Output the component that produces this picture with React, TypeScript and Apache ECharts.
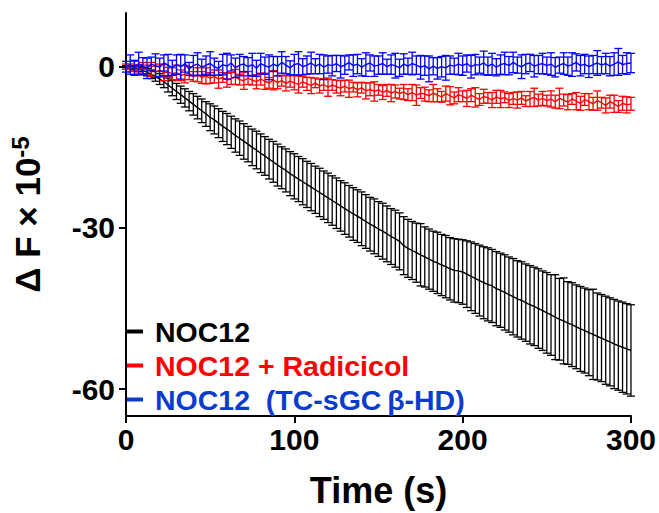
import React, { useEffect, useRef } from "react";
import * as echarts from "echarts";

// Time grid (s): one reading every 2.5 s from 0 to 300
const T_STEP = 2.5;

const noc12Mean = [
  0, -0.1, -0.2, -0.4, -0.7, -1.0, -1.4, -1.8, -2.3, -2.8,
  -3.4, -4.0, -4.6, -5.2, -5.8, -6.4, -7.0, -7.6, -8.2, -8.8,
  -9.4, -9.9, -10.5, -11.1, -11.6, -12.2, -12.8, -13.3, -13.9, -14.4,
  -15.0, -15.5, -16.1, -16.6, -17.2, -17.7, -18.3, -18.8, -19.3, -19.9,
  -20.4, -20.9, -21.4, -21.9, -22.4, -22.9, -23.4, -23.9, -24.4, -24.9,
  -25.4, -25.9, -26.4, -26.9, -27.4, -27.8, -28.3, -28.8, -29.3, -29.7,
  -30.2, -30.6, -31.1, -31.6, -32.0, -32.5, -33.3, -33.8, -34.2, -34.6,
  -35.0, -35.4, -35.8, -36.2, -36.5, -36.9, -37.2, -37.6, -37.9, -38.0,
  -38.2, -38.6, -39.0, -39.4, -39.8, -40.2, -40.5, -40.8, -41.3, -41.6,
  -42.0, -42.4, -42.8, -43.2, -43.5, -43.9, -44.3, -44.6, -45.0, -45.4,
  -45.8, -46.2, -46.6, -47.0, -47.3, -47.7, -48.0, -48.4, -48.8, -49.1,
  -49.5, -49.8, -50.2, -50.5, -50.9, -51.2, -51.6, -51.9, -52.2, -52.5,
  -52.8,
];
const noc12Err = [
  0.2, 0.3, 0.4, 0.5, 0.6, 0.7, 0.8, 0.9, 1.0, 1.1,
  1.3, 1.4, 1.5, 1.6, 1.7, 1.8, 2.0, 2.1, 2.2, 2.3,
  2.5, 2.6, 2.7, 2.8, 2.9, 3.0, 3.1, 3.2, 3.3, 3.3,
  3.4, 3.5, 3.6, 3.6, 3.7, 3.8, 3.9, 3.9, 4.0, 4.1,
  4.2, 4.2, 4.3, 4.3, 4.4, 4.4, 4.5, 4.5, 4.6, 4.6,
  4.7, 4.7, 4.8, 4.8, 4.9, 4.9, 5.0, 5.0, 5.0, 5.1,
  5.1, 5.2, 5.2, 5.2, 5.3, 5.3, 5.4, 5.4, 5.4, 5.5,
  5.8, 5.6, 5.6, 5.6, 5.7, 5.7, 5.8, 5.8, 5.9, 5.9,
  6.0, 6.2, 6.4, 6.5, 6.6, 6.7, 6.8, 6.8, 6.9, 6.9,
  7.0, 7.0, 7.1, 7.1, 7.2, 7.2, 7.3, 7.3, 7.4, 7.4,
  7.5, 7.5, 7.9, 7.6, 8.0, 7.7, 7.8, 7.8, 7.9, 7.9,
  8.0, 8.4, 8.1, 8.1, 8.2, 8.2, 8.3, 8.3, 8.4, 8.4,
  8.5,
];

const radicicolMean = [
  0, -0.2, 0.1, -0.4, -0.3, -0.6, -0.5, -0.9, -0.7, -1.1,
  -1.0, -1.3, -1.1, -1.6, -1.4, -1.2, -1.8, -1.5, -2.0, -1.7,
  -2.1, -1.8, -2.3, -2.0, -2.5, -2.2, -1.9, -2.4, -2.6, -2.1,
  -2.5, -2.8, -2.3, -2.7, -3.0, -2.5, -2.9, -2.6, -3.1, -2.7,
  -3.0, -3.3, -2.8, -3.2, -3.5, -3.0, -3.6, -3.3, -3.8, -3.4,
  -3.7, -4.0, -3.6, -4.1, -3.8, -4.3, -3.9, -4.5, -4.2, -4.6,
  -4.3, -4.8, -4.4, -4.9, -4.6, -5.0, -4.7, -5.2, -4.8, -5.3,
  -4.9, -5.1, -5.4, -4.9, -5.3, -5.6, -5.0, -5.4, -5.8, -5.2,
  -5.5, -5.9, -5.3, -5.7, -6.1, -5.5, -5.8, -6.2, -5.6, -6.0,
  -5.7, -6.3, -5.9, -6.2, -5.8, -6.4, -6.0, -5.7, -6.2, -5.9,
  -6.3, -6.0, -6.5, -5.9, -6.2, -6.6, -6.0, -6.4, -6.8, -6.1,
  -6.5, -6.9, -6.3, -6.7, -7.2, -6.5, -6.9, -7.4, -6.8, -7.1,
  -6.9,
];
const radicicolErr = [
  0.5, 0.7, 0.9, 0.8, 1.1, 0.9, 1.3, 1.0, 1.2, 1.5,
  0.9, 1.1, 1.4, 1.0, 1.6, 1.2, 0.9, 1.3, 1.1, 1.5,
  1.0, 1.2, 1.7, 0.9, 1.3, 1.1, 1.4, 1.0, 1.6, 1.2,
  0.9, 1.3, 1.1, 1.5, 1.0, 1.8, 1.2, 1.0, 1.4, 1.1,
  1.3, 1.6, 1.0, 1.2, 1.5, 0.9, 1.3, 1.1, 1.7, 1.0,
  1.2, 1.4, 1.1, 1.6, 0.9, 1.3, 1.0, 1.5, 1.2, 1.8,
  1.0, 1.3, 1.1, 1.6, 1.2, 1.0, 1.4, 1.1, 1.5, 1.9,
  1.0, 1.3, 1.1, 1.6, 1.2, 1.0, 1.4, 1.7, 1.1, 1.3,
  1.0, 1.5, 1.2, 1.8, 1.1, 1.3, 1.0, 1.4, 1.2, 1.6,
  1.0, 1.3, 1.1, 1.5, 1.2, 1.0, 1.4, 1.7, 1.1, 1.3,
  1.0, 1.5, 1.2, 1.9, 1.1, 1.4, 1.0, 1.6, 1.3, 1.1,
  1.5, 1.2, 1.8, 1.0, 1.4, 1.2, 1.6, 1.1, 1.3, 1.5,
  1.2,
];

const tcMean = [
  0.0, 0.4, -0.2, 0.6, 0.1, -0.3, 0.5, 0.2, -0.1, 0.7,
  0.3, -0.2, 0.4, 0.0, 0.6, -0.4, 0.2, 0.5, -0.1, 0.3,
  0.6, 0.0, -0.3, 0.4, 0.1, 0.7, -0.2, 0.3, 0.5, 0.0,
  0.4, -0.3, 0.6, 0.2, -0.1, 0.5, 0.1, 0.8, 0.3, -0.2,
  0.4, 0.6, 0.0, 0.3, 0.7, 0.1, 0.5, -0.1, 0.4, 0.2,
  0.6, 0.0, 0.3, 0.8, 0.2, 0.5, -0.1, 0.4, 0.7, 0.1,
  0.3, 0.6, 0.0, 0.4, 0.2, -0.2, 0.5, 0.1, 0.6, 0.3,
  -0.1, 0.2, -0.4, 0.1, -0.3, 0.0, -0.2, 0.3, 0.1, 0.5,
  0.2, 0.6, 0.0, 0.4, 0.3, 0.7, 0.1, 0.5, -0.1, 0.4,
  0.6, 0.2, 0.8, 0.3, 0.0, 0.5, 0.7, 0.1, 0.4, 0.6,
  0.2, 0.5, -0.1, 0.3, 0.6, 0.1, 0.4, 0.8, 0.2, 0.5,
  0.0, 0.4, 0.7, 0.3, 0.6, 0.1, 0.5, 0.9, 0.4, 0.6,
  0.7,
];
const tcErr = [
  1.0, 1.8, 1.4, 2.1, 1.6, 1.9, 1.3, 2.2, 1.7, 1.5,
  2.0, 1.4, 1.8, 2.3, 1.6, 1.2, 1.9, 2.1, 1.5, 1.7,
  2.2, 1.6, 1.3, 1.9, 2.4, 1.5, 1.8, 2.0, 1.4, 1.7,
  2.1, 1.5, 1.9, 1.6, 2.3, 1.4, 1.8, 2.0, 1.6, 1.3,
  1.9, 2.2, 1.5, 1.7, 2.0, 1.4, 1.8, 2.3, 1.6, 1.9,
  1.5, 2.1, 1.7, 1.4, 2.0, 1.8, 1.6, 2.2, 1.5, 1.9,
  1.7, 2.0, 1.4, 1.8, 2.3, 1.6, 1.9, 1.5, 2.1, 1.7,
  2.2, 1.8, 2.4, 1.6, 2.0, 1.9, 2.3, 1.7, 1.5, 2.0,
  1.8, 1.6, 2.1, 1.9, 1.5, 2.2, 1.7, 2.0, 1.6, 1.8,
  2.1, 1.7, 1.9, 1.5, 2.2, 1.8, 1.6, 2.0, 1.7, 1.9,
  1.6, 2.1, 1.8, 1.5, 2.0, 1.7, 2.2, 1.6, 1.9, 1.8,
  2.0, 1.7, 2.3, 1.6, 1.9, 1.8, 2.1, 2.5, 1.7, 2.0,
  1.8,
];

const seriesNames = ["NOC12", "NOC12 + Radicicol", "NOC12  (TC-sGC\u2009β-HD)"];
const seriesColors = ["#000000", "#ff0000", "#0000ff"];
const legendTextColors = ["#000000", "#ff0000", "#0a3ccf"];
const xTicks = [0, 100, 200, 300];
const yTicks = [0, -30, -60];

const FONT = "'Liberation Sans', Arial, Helvetica, sans-serif";

export default function App() {
  const ref = useRef<HTMLDivElement>(null);
  useEffect(() => {
    if (!ref.current) return;
    const chart = echarts.init(ref.current, undefined, { renderer: "svg" });
    const means = [noc12Mean, radicicolMean, tcMean];
    const errs = [noc12Err, radicicolErr, tcErr];
    const series: any[] = [];
    means.forEach((m, s) => {
      const color = seriesColors[s];
      const errData = m.map((v, i) => [i * T_STEP, v - errs[s][i], v + errs[s][i]]);
      series.push({
        type: "custom",
        name: seriesNames[s] + " err",
        z: 2 + s * 2,
        silent: true,
        data: errData,
        encode: { x: 0, y: [1, 2] },
        renderItem: (_p: any, api: any) => {
          const x = api.value(0);
          const lo = api.coord([x, api.value(1)]);
          const hi = api.coord([x, api.value(2)]);
          const hw = 4;
          const st = { stroke: color, lineWidth: 1.3 };
          return {
            type: "group",
            children: [
              { type: "line", shape: { x1: hi[0], y1: hi[1], x2: lo[0], y2: lo[1] }, style: st },
              { type: "line", shape: { x1: hi[0] - hw, y1: hi[1], x2: hi[0] + hw, y2: hi[1] }, style: st },
              { type: "line", shape: { x1: lo[0] - hw, y1: lo[1], x2: lo[0] + hw, y2: lo[1] }, style: st },
            ],
          };
        },
      });
      series.push({
        type: "line",
        name: seriesNames[s],
        z: 3 + s * 2,
        symbol: "none",
        color,
        lineStyle: { color, width: 1.4 },
        data: m.map((v, i) => [i * T_STEP, v]),
      });
    });

    chart.setOption({
      animation: false,
      backgroundColor: "#ffffff",
      grid: { left: 124, right: 28, top: 13, bottom: 87, containLabel: false },
      legend: {
        orient: "vertical",
        left: 122,
        top: 312,
        itemWidth: 16,
        itemHeight: 4,
        itemGap: 5,
        icon: "rect",
        selectedMode: false,
        textStyle: { fontFamily: FONT, fontWeight: "bold", fontSize: 28.5, padding: [0, 0, 0, 7] },
        data: seriesNames.map((n, i) => ({
          name: n,
          itemStyle: { color: legendTextColors[i] },
          textStyle: { color: legendTextColors[i] },
        })),
      },
      xAxis: {
        type: "value",
        min: 0,
        max: 300,
        interval: 100,
        name: "Time (s)",
        nameLocation: "middle",
        nameGap: 56,
        nameTextStyle: { fontFamily: FONT, fontWeight: "bold", fontSize: 36, color: "#000" },
        axisLine: { onZero: false, lineStyle: { color: "#000", width: 2 } },
        axisTick: { length: 7, lineStyle: { color: "#000", width: 2 }, customValues: xTicks },
        axisLabel: { fontFamily: FONT, fontWeight: "bold", fontSize: 30, color: "#000", margin: 8, customValues: xTicks },
        splitLine: { show: false },
      },
      yAxis: {
        type: "value",
        min: -65,
        max: 10,
        name: "{a|Δ F × 10}{b|-5}",
        nameLocation: "middle",
        nameGap: 80,
        nameRotate: 90,
        nameTextStyle: {
          rich: {
            a: { fontFamily: FONT, fontWeight: "bold", fontSize: 35, color: "#000" },
            b: { fontFamily: FONT, fontWeight: "bold", fontSize: 24, color: "#000", verticalAlign: "top", padding: [0, 0, 14, 0] },
          },
        },
        axisLine: { onZero: false, lineStyle: { color: "#000", width: 2 } },
        axisTick: { length: 7, lineStyle: { color: "#000", width: 2 }, customValues: yTicks },
        axisLabel: { fontFamily: FONT, fontWeight: "bold", fontSize: 30, color: "#000", margin: 11, customValues: yTicks },
        splitLine: { show: false },
      },
      series,
    });
    return () => chart.dispose();
  }, []);
  return (
    <div
      ref={ref}
      style={{ position: "fixed", left: 0, top: 0, width: 659, height: 513, background: "#fff" }}
    />
  );
}
